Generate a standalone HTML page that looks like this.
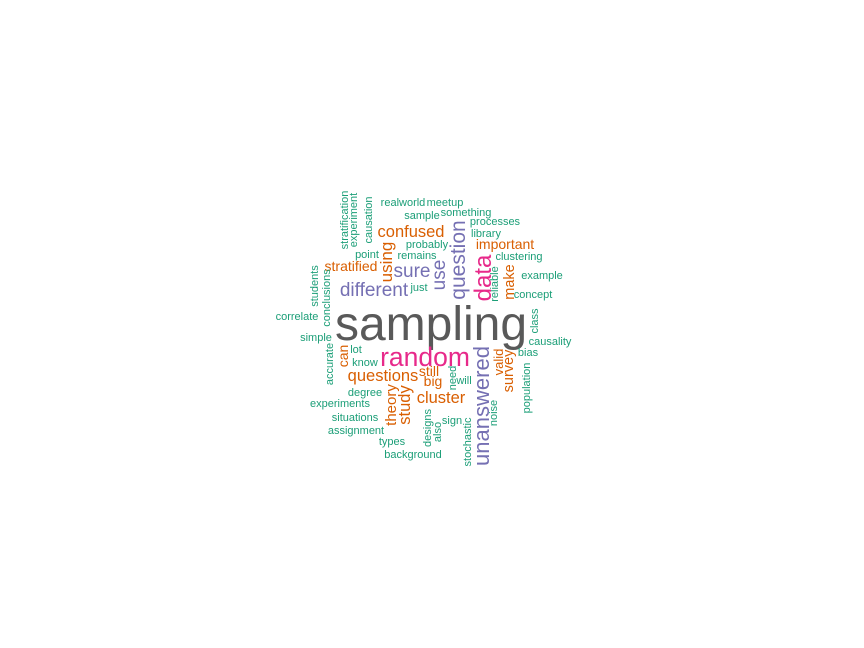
<!DOCTYPE html>
<html><head><meta charset="utf-8"><style>
html,body{margin:0;padding:0;background:#fff;}
svg{display:block;font-family:"Liberation Sans",Arial,sans-serif;}
.g{fill:#1B9E77;font-size:11px}
.o{fill:#D95F02}
.p{fill:#7570B3}
.k{fill:#E7298A}
</style></head><body>
<svg width="864" height="648" viewBox="0 0 864 648" text-anchor="middle">
<rect width="864" height="648" fill="#fff"/>
<text x="431" y="340" font-size="48" fill="#595959">sampling</text>
<text x="425" y="366" font-size="26.5" class="k">random</text>
<text x="374" y="296" font-size="19" class="p">different</text>
<text x="412" y="277" font-size="19" class="p">sure</text>
<text x="411" y="237" font-size="16.5" class="o">confused</text>
<text x="351" y="271" font-size="14" class="o">stratified</text>
<text x="505" y="249" font-size="14" class="o">important</text>
<text x="383" y="381" font-size="16.5" class="o">questions</text>
<text x="429" y="376" font-size="14" class="o">still</text>
<text x="433" y="386" font-size="14" class="o">big</text>
<text x="441" y="403" font-size="16.5" class="o">cluster</text>
<g class="g">
<text x="403" y="206">realworld</text>
<text x="445" y="206">meetup</text>
<text x="422" y="219">sample</text>
<text x="466" y="216">something</text>
<text x="495" y="225">processes</text>
<text x="486" y="237">library</text>
<text x="427" y="248">probably</text>
<text x="417" y="259">remains</text>
<text x="367" y="258">point</text>
<text x="419" y="291">just</text>
<text x="519" y="260">clustering</text>
<text x="542" y="279">example</text>
<text x="533" y="298">concept</text>
<text x="550" y="345">causality</text>
<text x="528" y="356">bias</text>
<text x="316" y="341">simple</text>
<text x="297" y="320">correlate</text>
<text x="365" y="366">know</text>
<text x="356" y="353">lot</text>
<text x="365" y="396">degree</text>
<text x="340" y="407">experiments</text>
<text x="355" y="421">situations</text>
<text x="356" y="434">assignment</text>
<text x="392" y="445">types</text>
<text x="413" y="458">background</text>
<text x="452" y="424">sign</text>
<text x="464" y="384">will</text>
<text transform="translate(348,220) rotate(-90)">stratification</text>
<text transform="translate(357,220) rotate(-90)">experiment</text>
<text transform="translate(372,220) rotate(-90)">causation</text>
<text transform="translate(318,286) rotate(-90)">students</text>
<text transform="translate(330,298) rotate(-90)">conclusions</text>
<text transform="translate(333,364) rotate(-90)">accurate</text>
<text transform="translate(456,378) rotate(-90)">need</text>
<text transform="translate(431,428) rotate(-90)">designs</text>
<text transform="translate(441,432) rotate(-90)">also</text>
<text transform="translate(471,442) rotate(-90)">stochastic</text>
<text transform="translate(497,413) rotate(-90)">noise</text>
<text transform="translate(530,388) rotate(-90)">population</text>
<text transform="translate(498,284) rotate(-90)">reliable</text>
<text transform="translate(538,321) rotate(-90)">class</text>
</g>
<g class="o">
<text transform="translate(392,262) rotate(-90)" font-size="17">using</text>
<text transform="translate(348,356) rotate(-90)" font-size="14">can</text>
<text transform="translate(396,405) rotate(-90)" font-size="15">theory</text>
<text transform="translate(410,405) rotate(-90)" font-size="16.5">study</text>
<text transform="translate(503,362) rotate(-90)" font-size="13">valid</text>
<text transform="translate(513,371) rotate(-90)" font-size="14.5">survey</text>
<text transform="translate(514,282) rotate(-90)" font-size="14.5">make</text>
</g>
<g class="p">
<text transform="translate(445,275) rotate(-90)" font-size="19">use</text>
<text transform="translate(465,260) rotate(-90)" font-size="21">question</text>
<text transform="translate(489,406) rotate(-90)" font-size="22">unanswered</text>
</g>
<text transform="translate(491,278) rotate(-90)" font-size="24" class="k">data</text>
</svg>
</body></html>
